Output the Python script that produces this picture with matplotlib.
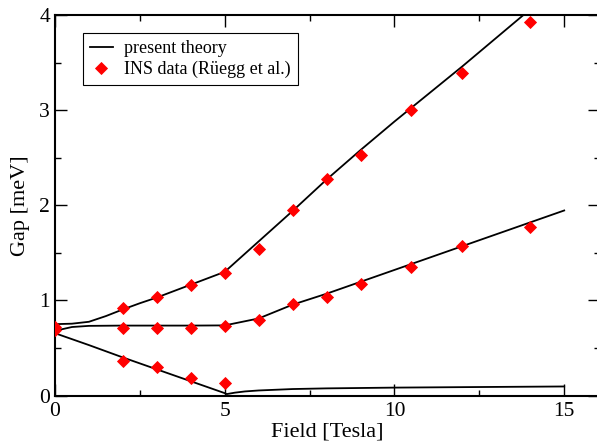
import numpy as np
import matplotlib
matplotlib.use("Agg")
import matplotlib.pyplot as plt
from matplotlib.ticker import MultipleLocator

plt.rcParams.update({"font.family": ["Liberation Serif", "DejaVu Serif"],
                     "mathtext.fontset": "stix"})

# ---- theory curves
B_up = [0, 0.5, 1, 1.5, 2, 2.5, 3, 4, 5, 6, 7, 8, 9, 10, 11, 12, 13, 14]
E_up = [0.75, 0.755, 0.775, 0.835, 0.905, 0.97, 1.03, 1.165, 1.30, 1.62, 1.94,
        2.27, 2.58, 2.88, 3.17, 3.46, 3.76, 4.06]
B_mid = [0, 0.25, 0.5, 1, 2, 3, 4, 5, 6, 7, 8, 9, 10, 11, 12, 13, 14, 15]
E_mid = [0.68, 0.70, 0.72, 0.732, 0.735, 0.735, 0.735, 0.737, 0.81, 0.955,
         1.07, 1.195, 1.32, 1.445, 1.57, 1.695, 1.82, 1.945]
B_low = [0, 1, 2, 3, 4, 5, 5.06, 5.3, 5.6, 6, 7, 8, 10, 12, 15]
E_low = [0.655, 0.53, 0.40, 0.275, 0.15, 0.025, 0.015, 0.03, 0.043, 0.053,
         0.068, 0.075, 0.083, 0.088, 0.095]

# ---- INS data (Ruegg et al.)
B_ins = [0, 0, 2, 3, 4, 5, 6, 7, 8, 9, 10.5, 12, 14,
         2, 3, 4, 5, 6, 7, 8, 9, 10.5, 12, 14,
         2, 3, 4, 5]
E_ins = [0.72, 0.69, 0.923, 1.039, 1.162, 1.291, 1.537, 1.95, 2.273, 2.526, 3.0, 3.388, 3.924,
         0.707, 0.707, 0.707, 0.731, 0.794, 0.959, 1.039, 1.172, 1.354, 1.572, 1.775,
         0.366, 0.303, 0.187, 0.135]

fig = plt.figure(figsize=(5.97, 4.43), dpi=100)
ax = fig.add_axes([0.0921, 0.1072, 0.9121, 0.859])

ax.plot(B_up, E_up, color="black", lw=1.3, label="present theory")
ax.plot(B_mid, E_mid, color="black", lw=1.3)
ax.plot(B_low, E_low, color="black", lw=1.3)
ax.plot(B_ins, E_ins, ls="none", marker="D", ms=6.3, color="red",
        mec="red", mew=0.6, label="INS data (R\u00fcegg et al.)", zorder=4)

ax.set_xlim(0, 16.04)
ax.set_ylim(0, 4)
ax.xaxis.set_major_locator(MultipleLocator(5))
ax.xaxis.set_minor_locator(MultipleLocator(2.5))
ax.yaxis.set_major_locator(MultipleLocator(1))
ax.yaxis.set_minor_locator(MultipleLocator(0.5))
ax.tick_params(which="both", direction="in", top=True, right=True,
               labelsize=15.5, width=1.0)
ax.tick_params(which="major", length=8.5)
ax.tick_params(which="minor", length=4.5)
ax.tick_params(axis="x", pad=5)
ax.tick_params(axis="y", pad=3.5)
for s in ax.spines.values():
    s.set_linewidth(1.5)

ax.set_xlabel("Field [Tesla]", fontsize=16, labelpad=1)
ax.set_ylabel("Gap [meV]", fontsize=16, labelpad=7)

leg = ax.legend(loc="upper left", bbox_to_anchor=(0.051, 0.953),
                borderaxespad=0, fontsize=13, numpoints=1, handlelength=1.25,
                handletextpad=0.65, labelspacing=0.2, borderpad=0.4,
                fancybox=False, framealpha=1, edgecolor="black")
leg.get_frame().set_linewidth(0.8)

fig.savefig("out.png", dpi=100)
